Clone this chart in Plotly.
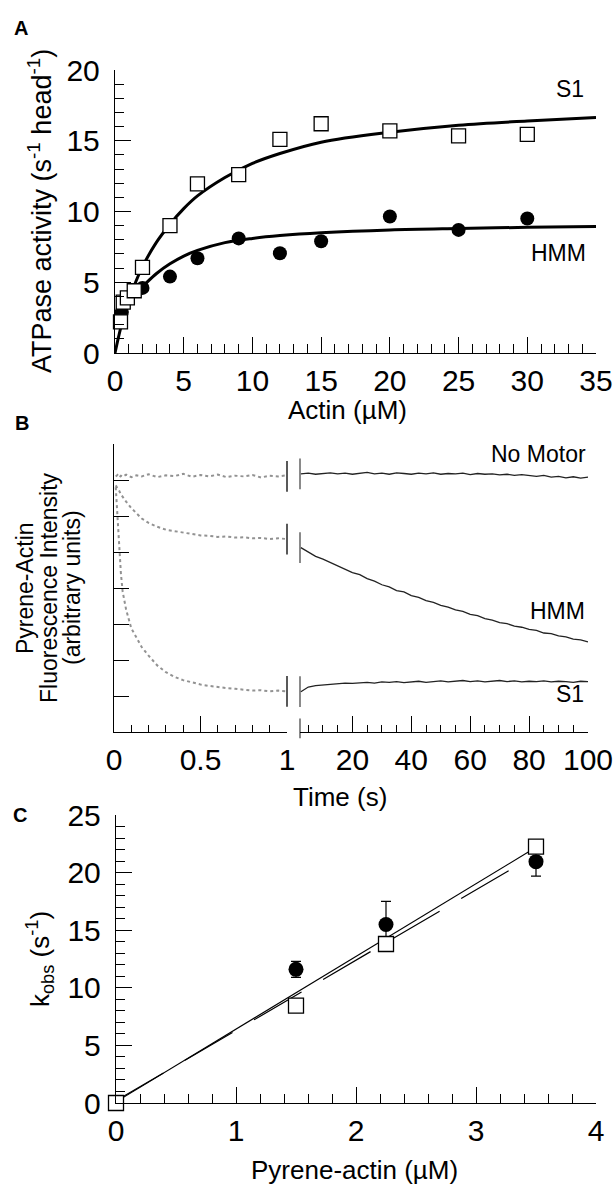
import plotly.graph_objects as go

W, H = 613, 1188

# ---- Panel A: ATPase activity vs actin ----
actin_s1 = [0.4, 0.6, 0.9, 1.4, 2, 4, 6, 9, 12, 15, 20, 25, 30]
atpase_s1 = [2.2, 3.6, 3.9, 4.4, 6.05, 9.0, 11.95, 12.6, 15.1, 16.2, 15.7, 15.35, 15.45]
actin_hmm = [0.5, 2, 4, 6, 9, 12, 15, 20, 25, 30]
atpase_hmm = [2.9, 4.6, 5.4, 6.7, 8.1, 7.05, 7.9, 9.65, 8.7, 9.5]

fit_x_s1 = [0, 0.25, 0.5, 1, 1.5, 2, 3, 4, 5, 6, 8, 10, 12, 15, 20, 25, 30, 35]
fit_y_s1 = [0, 1.1, 2.1, 3.7, 5.0, 6.1, 7.8, 9.1, 10.2, 11.1, 12.4, 13.4, 14.1, 14.9, 15.6, 16.1, 16.4, 16.65]
fit_x_hmm = [0, 0.5, 1, 2, 3, 4, 5, 6, 8, 10, 12, 15, 20, 25, 30, 35]
fit_y_hmm = [2.7, 3.3, 3.8, 4.7, 5.6, 6.3, 6.85, 7.25, 7.8, 8.1, 8.3, 8.5, 8.7, 8.8, 8.88, 8.94]

# ---- Panel B: pyrene-actin fluorescence traces (broken time axis) ----
t_fast = [0.01, 0.02, 0.03, 0.04, 0.05, 0.07, 0.1, 0.13, 0.16, 0.2, 0.25, 0.3, 0.35,
          0.4, 0.45, 0.5, 0.55, 0.6, 0.65, 0.7, 0.75, 0.8, 0.85, 0.9, 0.95, 1.0]
fast_nomotor = [7.1, 7.14, 7.07, 7.12, 7.09, 7.15, 7.08, 7.13, 7.1, 7.16, 7.08, 7.13, 7.11,
                7.17, 7.09, 7.14, 7.1, 7.15, 7.08, 7.12, 7.1, 7.14, 7.07, 7.12, 7.1, 7.13]
fast_hmm = [6.85, 6.78, 6.7, 6.6, 6.52, 6.4, 6.22, 6.06, 5.93, 5.81, 5.7, 5.62, 5.58,
            5.52, 5.5, 5.46, 5.45, 5.42, 5.43, 5.4, 5.41, 5.38, 5.39, 5.36, 5.38, 5.36]
fast_s1 = [6.8, 6.0, 5.1, 4.4, 3.9, 3.4, 2.88, 2.6, 2.36, 2.12, 1.85, 1.66, 1.53,
           1.44, 1.37, 1.32, 1.28, 1.24, 1.22, 1.2, 1.18, 1.15, 1.16, 1.13, 1.15, 1.13]

t_slow = [2.5, 5, 7.5, 10, 12.5, 15, 17.5, 20, 22.5, 25, 27.5, 30, 32.5, 35, 37.5, 40,
          42.5, 45, 47.5, 50, 52.5, 55, 57.5, 60, 62.5, 65, 67.5, 70, 72.5, 75, 77.5, 80,
          82.5, 85, 87.5, 90, 92.5, 95, 97.5, 100]
slow_nomotor = [7.17, 7.19, 7.16, 7.18, 7.2, 7.17, 7.19, 7.16, 7.18, 7.21, 7.17, 7.19, 7.16,
                7.2, 7.18, 7.16, 7.19, 7.17, 7.2, 7.16, 7.18, 7.17, 7.19, 7.15, 7.18, 7.16,
                7.17, 7.14, 7.16, 7.13, 7.15, 7.12, 7.1, 7.13, 7.08, 7.1, 7.06, 7.09, 7.05, 7.08]
slow_hmm = [5.12, 5.01, 4.88, 4.8, 4.71, 4.6, 4.53, 4.43, 4.37, 4.26, 4.19, 4.09, 4.03, 3.93,
            3.89, 3.79, 3.74, 3.65, 3.6, 3.52, 3.47, 3.39, 3.35, 3.27, 3.23, 3.15, 3.11, 3.04,
            3.01, 2.94, 2.91, 2.85, 2.82, 2.75, 2.73, 2.67, 2.64, 2.58, 2.56, 2.5]
slow_s1 = [1.12, 1.25, 1.29, 1.31, 1.33, 1.34, 1.36, 1.35, 1.37, 1.38, 1.36, 1.39, 1.38,
           1.4, 1.37, 1.39, 1.41, 1.38, 1.4, 1.42, 1.39, 1.41, 1.43, 1.4, 1.42, 1.39, 1.41,
           1.43, 1.4, 1.42, 1.39, 1.41, 1.4, 1.42, 1.39, 1.41, 1.4, 1.38, 1.41, 1.4]

break_left = [7.1, 5.36, 1.13]
break_right = [7.17, 5.12, 1.12]
t_break_left = 1.0
t_break_right = 2.2

# ---- Panel C: kobs vs pyrene-actin ----
pyr_s1 = [0, 1.5, 2.25, 3.5]
kobs_s1 = [0, 8.45, 13.8, 22.25]
pyr_hmm = [1.5, 2.25, 3.5]
kobs_hmm = [11.6, 15.5, 20.95]
kobs_hmm_err = [0.7, 2.0, 1.25]
line_x_s1 = [0, 3.47]
line_y_s1 = [0.1, 22.0]
line_x_hmm = [0, 3.32]
line_y_hmm = [0.2, 20.45]

FONT = "Liberation Sans, Arial, sans-serif"


def px(x):
    # page pixel -> paper fraction
    return x / W


def py(y):
    return 1 - y / H


fig = go.Figure()

# Panel A
fig.add_trace(go.Scatter(x=fit_x_s1, y=fit_y_s1, mode="lines", line=dict(color="black", width=3),
                         line_shape="spline", xaxis="x", yaxis="y"))
fig.add_trace(go.Scatter(x=fit_x_hmm, y=fit_y_hmm, mode="lines", line=dict(color="black", width=3),
                         line_shape="spline", xaxis="x", yaxis="y"))
fig.add_trace(go.Scatter(x=actin_hmm, y=atpase_hmm, mode="markers",
                         marker=dict(symbol="circle", size=14, color="black"), xaxis="x", yaxis="y"))
fig.add_trace(go.Scatter(x=actin_s1, y=atpase_s1, mode="markers",
                         marker=dict(symbol="square", size=14, color="white",
                                     line=dict(color="black", width=1.3)), xaxis="x", yaxis="y"))

# Panel B, fast part (gray noisy dots)
for ys in [fast_nomotor, fast_hmm, fast_s1]:
    fig.add_trace(go.Scatter(x=t_fast, y=ys, mode="lines",
                             line=dict(color="rgba(110,110,110,0.75)", width=2, dash="dot"),
                             xaxis="x2", yaxis="y2"))
# Panel B, slow part
for ys in [slow_nomotor, slow_hmm, slow_s1]:
    fig.add_trace(go.Scatter(x=t_slow, y=ys, mode="lines",
                             line=dict(color="#222", width=1.3), xaxis="x3", yaxis="y2"))
# axis-break marks on traces
fig.add_trace(go.Scatter(x=[t_break_left] * len(break_left), y=break_left, mode="markers",
                         marker=dict(symbol="line-ns", size=22, line=dict(color="#222", width=1.5)),
                         xaxis="x2", yaxis="y2"))
fig.add_trace(go.Scatter(x=[t_break_right] * len(break_right) + [t_break_right],
                         y=break_right + [0.1], mode="markers",
                         marker=dict(symbol="line-ns", size=[22, 22, 22, 14],
                                     line=dict(color="#222", width=1.5)),
                         xaxis="x3", yaxis="y2"))

# Panel C
fig.add_trace(go.Scatter(x=line_x_s1, y=line_y_s1, mode="lines", line=dict(color="black", width=1.2),
                         xaxis="x4", yaxis="y4"))
fig.add_trace(go.Scatter(x=line_x_hmm, y=line_y_hmm, mode="lines",
                         line=dict(color="black", width=1.2, dash="55px,25px"), xaxis="x4", yaxis="y4"))
fig.add_trace(go.Scatter(x=pyr_hmm, y=kobs_hmm, mode="markers",
                         marker=dict(symbol="circle", size=15, color="black"),
                         error_y=dict(type="data", array=kobs_hmm_err, color="black", thickness=1.2, width=5),
                         xaxis="x4", yaxis="y4"))
fig.add_trace(go.Scatter(x=pyr_s1, y=kobs_s1, mode="markers",
                         marker=dict(symbol="square", size=15, color="white",
                                     line=dict(color="black", width=1.3)), xaxis="x4", yaxis="y4"))

fig.update_traces(cliponaxis=False, showlegend=False, hoverinfo="skip")

ax = dict(showline=True, linecolor="black", linewidth=1.4, ticks="inside", tickcolor="black",
          tickwidth=1.4, ticklen=16, showgrid=False, zeroline=False, automargin=False,
          ticklabeloverflow="allow", tickfont=dict(size=30, color="black", family=FONT))
xa = dict(ax, ticklabelstandoff=1)
ya = dict(ax, ticklabelstandoff=8)


def minor(d, ln=9):
    return dict(ticks="inside", dtick=d, ticklen=ln, tickwidth=1.2, tickcolor="black", showgrid=False)


fig.update_layout(
    width=W, height=H, margin=dict(l=0, r=0, t=0, b=0, autoexpand=False),
    paper_bgcolor="white", plot_bgcolor="white", showlegend=False,
    font=dict(family=FONT, color="black"),
    xaxis=dict(xa, domain=[px(115), px(596)], range=[0, 35], dtick=5, minor=minor(1), anchor="y"),
    yaxis=dict(ya, domain=[py(353), py(70)], range=[0, 20], dtick=5, minor=minor(1), anchor="x"),
    xaxis2=dict(xa, domain=[px(114), px(287)], range=[0, 1], tickvals=[0, 0.5, 1],
                ticktext=["0", "0.5", "1"], minor=minor(0.1, 7), anchor="y2"),
    xaxis3=dict(xa, domain=[px(300), px(588)], range=[t_break_right, 100],
                tickvals=[20, 40, 60, 80, 100], minor=minor(5, 7), anchor="y2"),
    yaxis2=dict(ya, domain=[py(732), py(444)], range=[0, 8], dtick=1, ticklen=15,
                showticklabels=False, anchor="x2"),
    xaxis4=dict(xa, domain=[px(116), px(596)], range=[0, 4], dtick=1, minor=minor(0.2), anchor="y4"),
    yaxis4=dict(ya, domain=[py(1103), py(815)], range=[0, 25], dtick=5, minor=minor(1), anchor="x4"),
)

notes = [
    ("<b>A</b>", 21, 28, 20, 0),
    ("S1", 570, 89, 23, 0),
    ("HMM", 558, 253, 23, 0),
    ("Actin (µM)", 347, 410, 26, 0),
    ("ATPase activity (s<sup>-1</sup> head<sup>-1</sup>)", 40, 211, 27, -90),
    ("<b>B</b>", 22, 423, 20, 0),
    ("No Motor", 538, 454, 23, 0),
    ("HMM", 557, 611, 23, 0),
    ("S1", 570, 694, 23, 0),
    ("Pyrene-Actin", 25, 588, 23, -90),
    ("Fluorescence Intensity", 49, 588, 23, -90),
    ("(arbitrary units)", 72, 588, 23, -90),
    ("Time (s)", 340, 797, 26, 0),
    ("<b>C</b>", 20, 815, 20, 0),
    ("k<sub>obs</sub> (s<sup>-1</sup>)", 40, 959, 26, -90),
    ("Pyrene-actin (µM)", 354, 1170, 26, 0),
]
for text, x, y, size, ang in notes:
    fig.add_annotation(text=text, x=px(x), y=py(y), xref="paper", yref="paper",
                       showarrow=False, textangle=ang, xanchor="center", yanchor="middle",
                       font=dict(size=size, color="black", family=FONT))

# drop the page margin so the figure sits at the window's top-left corner
fig.write_html("out.html", config={"displayModeBar": False},
               post_script="document.body.style.margin='0';"
                           "document.documentElement.style.overflow='hidden';")
